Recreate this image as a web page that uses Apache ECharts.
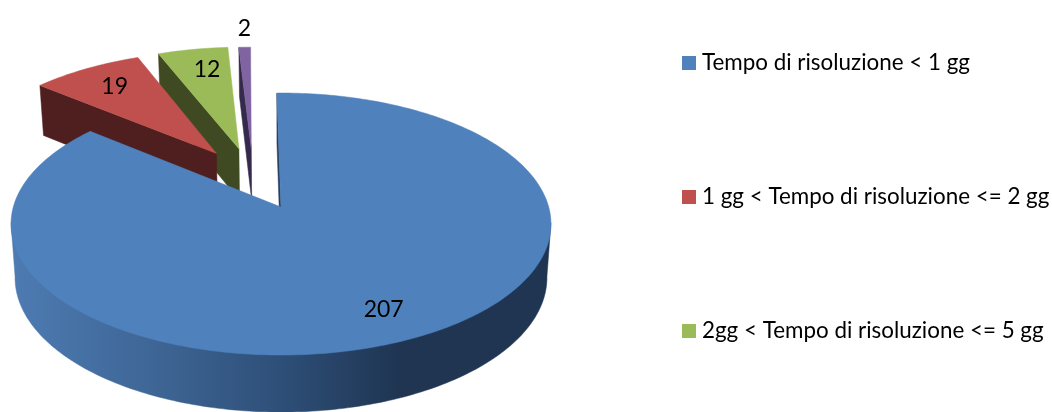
<!DOCTYPE html>
<html>
<head>
<meta charset="utf-8">
<title>Tempo di risoluzione</title>
<script src="https://cdn.jsdelivr.net/npm/echarts@6/dist/echarts.min.js"></script>
<style>
  html, body { margin: 0; padding: 0; background: #fff; }
  #chart { width: 1052px; height: 412px; }
</style>
</head>
<body>
<div id="chart"></div>
<script>
// dati
var categories = [
  'Tempo di risoluzione < 1 gg',
  '1 gg < Tempo di risoluzione <= 2 gg',
  '2gg < Tempo di risoluzione <= 5 gg',
  'Tempo di risoluzione > 5 gg'
];
var values = [207, 19, 12, 2];
// the reference legend only has room for the first three
var legendItems = categories.slice(0, 3);

var topColors = ['#4f81bd', '#c0504d', '#9bbb59', '#8064a2'];
var wallColors = ['#253f60', '#4f1f1f', '#3f4a23', '#352a4b'];

// pie projection
var CX = 281, APEX_Y = 207;
var SCALE_X = 267.7, SCALE_Y = 128.8, PERSPECTIVE = 0.13;
var START_ANGLE = -1;
// how far each slice is pulled out, in disc units
var explodeU = [0, -0.255, -0.167, -0.118];
var explodeV = [0, 0.44, 0.48, 0.48];
var labelRadius = [0.8, 0.78, 0.78, 1.21];
var labelShift = [0, 2, 5, 1];

var total = values.reduce(function (a, b) { return a + b; }, 0);

function project(u, v) {
  var w = 1 + PERSPECTIVE * v;
  return [CX + SCALE_X * u / w, APEX_Y - SCALE_Y * v / w];
}
function discPoint(deg, radius, i) {
  var rad = deg * Math.PI / 180;
  return project(radius * Math.sin(rad) + explodeU[i], radius * Math.cos(rad) + explodeV[i]);
}
// same point on the lower rim of the pie
function lower(p) {
  return [CX + (p[0] - CX) * 0.985, p[1] + 50 + (p[1] - 85) * 0.026];
}
function arcPoints(from, to, i) {
  var pts = [];
  for (var a = from; a < to; a += 1) pts.push(discPoint(a, 1, i));
  pts.push(discPoint(to, 1, i));
  return pts;
}
function poly(points, fill) {
  return { type: 'polygon', shape: { points: points }, style: { fill: fill, stroke: fill, lineWidth: 0.5 } };
}

function sliceAngles(i) {
  var before = 0;
  for (var k = 0; k < i; k++) before += values[k];
  return [START_ANGLE + before / total * 360, START_ANGLE + (before + values[i]) / total * 360];
}

// outline of the rim: widest point on top, lower edge round the front, widest point on the other side
function rimOutline(arc) {
  var right = 0, left = 0;
  arc.forEach(function (p, k) {
    if (p[0] > arc[right][0]) right = k;
    if (p[0] < arc[left][0]) left = k;
  });
  return [arc[right]].concat(arc.slice(right, left + 1).map(lower), [arc[left]]);
}

function renderSlice(i) {
  return function (params, api) {
    var range = sliceAngles(i);
    var apex = discPoint(0, 0, i);
    var arc = arcPoints(range[0], range[1], i);
    var children = [];

    if (i === 0) {
      var rimFill = new echarts.graphic.LinearGradient(12, 0, 550, 0, [
        { offset: 0, color: '#4d7bb2' },
        { offset: 0.25, color: '#3f6797' },
        { offset: 0.5, color: '#2e4f78' },
        { offset: 0.72, color: '#1f3552' },
        { offset: 1, color: '#1f3552' }
      ], true);
      children.push(poly(rimOutline(arc), rimFill));
      children.push(poly([arc[0], apex, lower(apex), lower(arc[0])], wallColors[i]));
    } else {
      children.push(poly([apex, arc[0], lower(arc[0]), lower(apex)], wallColors[i]));
    }
    children.push(poly([apex].concat(arc), topColors[i]));

    var mid = (range[0] + range[1]) / 2;
    var labelPos = discPoint(mid, labelRadius[i], i);
    children.push({
      type: 'text',
      style: {
        x: labelPos[0] + labelShift[i], y: labelPos[1],
        text: String(api.value(0)),
        fill: '#000', font: '23px Lato',
        align: 'center', verticalAlign: 'middle'
      }
    });
    return { type: 'group', children: children };
  };
}

var series = categories.map(function (name, i) {
  return {
    name: name,
    type: 'custom',
    coordinateSystem: 'none',
    // painted back to front, big slice last
    z: 10 - i,
    silent: true,
    itemStyle: { color: topColors[i] },
    renderItem: renderSlice(i),
    data: [[values[i]]]
  };
});

var myChart = echarts.init(document.getElementById('chart'));
myChart.setOption({
  animation: false,
  backgroundColor: '#fff',
  legend: {
    orient: 'vertical',
    left: 682,
    top: 52,
    padding: 0,
    itemWidth: 14,
    itemHeight: 14,
    itemGap: 112,
    icon: 'rect',
    selectedMode: false,
    data: legendItems,
    textStyle: { fontFamily: 'Lato', fontSize: 22.4, color: '#000', padding: [0, 0, 0, 1] }
  },
  series: series
});
</script>
</body>
</html>
